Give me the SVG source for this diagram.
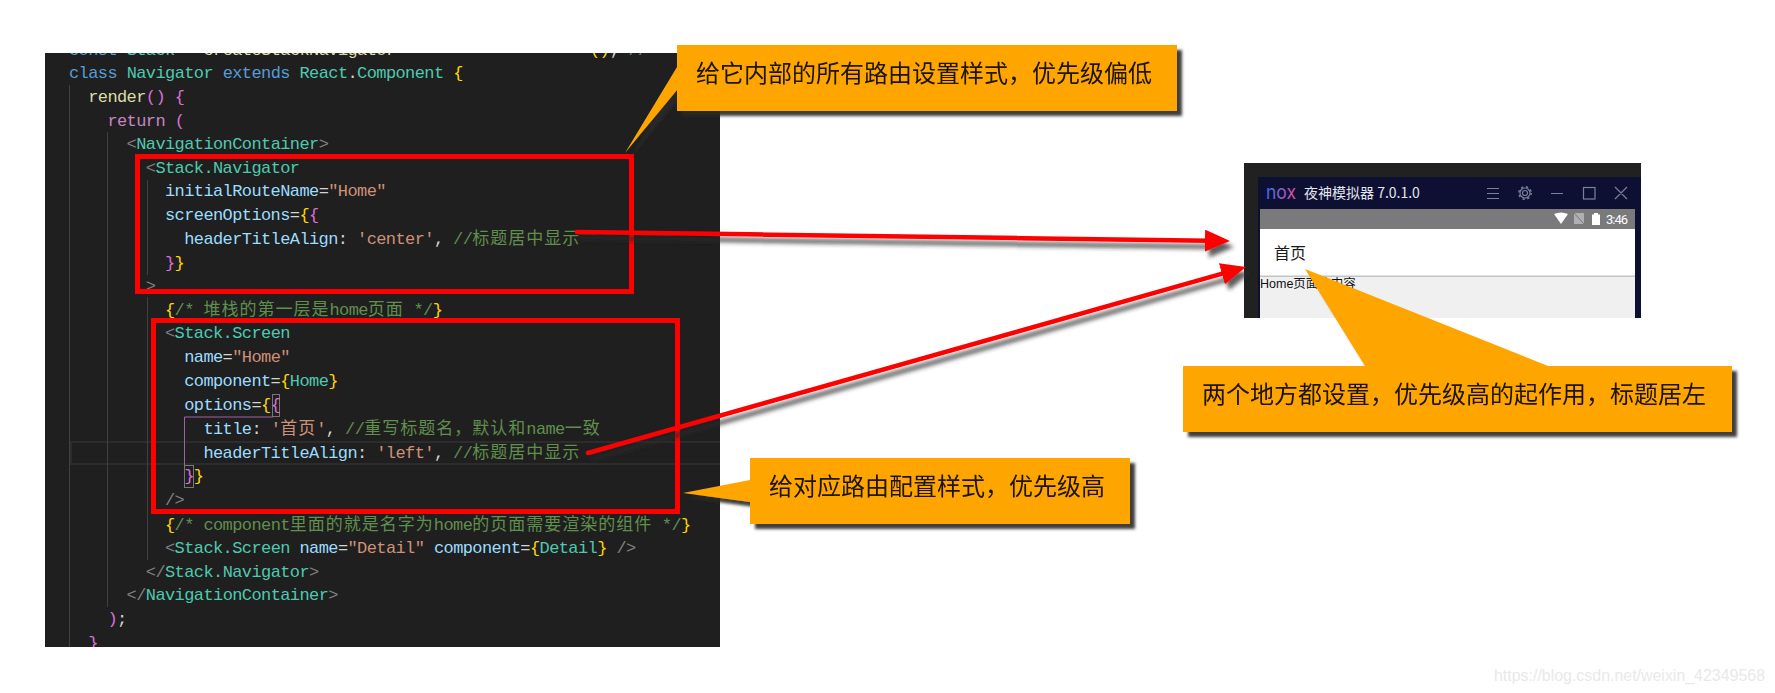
<svg xmlns="http://www.w3.org/2000/svg" width="1775" height="693" viewBox="0 0 1775 693">
<style>
text{white-space:pre}
.c{font-family:"Liberation Mono","Noto Sans CJK SC",monospace;font-size:17px;letter-spacing:-.6px;fill:#9cdcfe}
.z{font-family:"Noto Sans CJK SC",sans-serif;font-size:17px;letter-spacing:1px}
.k{fill:#569cd6}.t{fill:#4ec9b0}.p{fill:#c586c0}.f{fill:#dcdcaa}.s{fill:#ce9178}.g{fill:#5f8f4c}.a{fill:#9cdcfe}.o{fill:#d4d4d4}.y{fill:#ffd700}.m{fill:#da70d6}.b{fill:#808080}
.guide{stroke:#404040;stroke-width:1;fill:none}
.red{fill:none;stroke:#ff0000;stroke-width:5}
.call{fill:#ffa500}
.ct{font-family:"Noto Sans CJK SC",sans-serif;font-size:24px;fill:#1a1206}
.ico{stroke:#7b8098;stroke-width:1.2;fill:none}
.arr{stroke:#ff0000;stroke-width:4.5;fill:none;stroke-linecap:round;marker-end:url(#head)}
</style>
<defs>
<clipPath id="panelClip"><rect x="45" y="53" width="675" height="594"/></clipPath>
<filter id="sh" x="-10%" y="-30%" width="120%" height="170%"><feDropShadow dx="5" dy="5" stdDeviation="1.6" flood-color="#2b2b2b" flood-opacity=".9"/></filter>
<filter id="shl" filterUnits="userSpaceOnUse" x="500" y="200" width="800" height="300"><feDropShadow dx="4" dy="6" stdDeviation="2" flood-color="#2b2b2b" flood-opacity=".75"/></filter>
<marker id="head" markerUnits="userSpaceOnUse" markerWidth="30" markerHeight="26" refX="5" refY="11" orient="auto"><path d="M0,0L25,11L0,22z" fill="#ff0000"/></marker>
<linearGradient id="noxG" x1="0" x2="1" y1="0" y2="0"><stop offset="0" stop-color="#3a6fee"/><stop offset=".5" stop-color="#8a62c8"/><stop offset="1" stop-color="#ea4a9c"/></linearGradient>
</defs>
<rect width="1775" height="693" fill="#ffffff"/>

<g id="code-panel">
<rect x="45" y="53" width="675" height="594" fill="#1f1f1f"/>
<g clip-path="url(#panelClip)">
<rect x="71" y="442" width="660" height="22" fill="none" stroke="#2c2c2c" stroke-width="2"/>
<path class="guide" d="M69.5 85V647M107.5 132V607M147.5 180V275M147.5 297V560"/>
<path d="M184.5 465V417H273" fill="none" stroke="#a060a8" stroke-width="1"/>
<rect x="272.500" y="394.500" width="7" height="22" fill="none" stroke="#777"/>
<rect x="184.500" y="465.500" width="9" height="22" fill="none" stroke="#777"/>
<text class="c" y="54.500" x="69"><tspan class="k">const</tspan> <tspan class="t">Stack</tspan> <tspan class="o">=</tspan> <tspan class="f">createStackNavigator</tspan><tspan x="590" class="y">()</tspan><tspan class="o">;</tspan> <tspan class="g">//</tspan></text>
<text class="c" y="78" x="69"><tspan class="k">class</tspan> <tspan class="t">Navigator</tspan> <tspan class="k">extends</tspan> <tspan class="t">React</tspan><tspan class="o">.</tspan><tspan class="t">Component</tspan> <tspan class="y">{</tspan></text>
<text class="c" y="101.800" x="88.200"><tspan class="f">render</tspan><tspan class="m">()</tspan> <tspan class="m">{</tspan></text>
<text class="c" y="125.500" x="107.400"><tspan class="p">return</tspan> <tspan class="m">(</tspan></text>
<text class="c" y="149.300" x="126.600"><tspan class="b">&lt;</tspan><tspan class="t">NavigationContainer</tspan><tspan class="b">&gt;</tspan></text>
<text class="c" y="173.100" x="145.800"><tspan class="b">&lt;</tspan><tspan class="t">Stack.Navigator</tspan></text>
<text class="c" y="196.400" x="165"><tspan class="a">initialRouteName</tspan><tspan class="o">=</tspan><tspan class="s">"Home"</tspan></text>
<text class="c" y="220" x="165"><tspan class="a">screenOptions</tspan><tspan class="o">=</tspan><tspan class="y">{</tspan><tspan class="m">{</tspan></text>
<text class="c" y="243.800" x="184.200"><tspan class="a">headerTitleAlign</tspan><tspan class="o">:</tspan> <tspan class="s">'center'</tspan><tspan class="o">,</tspan> <tspan class="g">//</tspan><tspan class="z g">标题居中显示</tspan></text>
<text class="c" y="267.500" x="165"><tspan class="m">}</tspan><tspan class="y">}</tspan></text>
<text class="c" y="291" x="145.800"><tspan class="b">&gt;</tspan></text>
<text class="c" y="314.700" x="165"><tspan class="y">{</tspan><tspan class="g">/* </tspan><tspan class="z g">堆栈的第一层是</tspan><tspan class="g">home</tspan><tspan class="z g">页面</tspan><tspan class="g"> */</tspan><tspan class="y">}</tspan></text>
<text class="c" y="338" x="165"><tspan class="b">&lt;</tspan><tspan class="t">Stack.Screen</tspan></text>
<text class="c" y="362" x="184.200"><tspan class="a">name</tspan><tspan class="o">=</tspan><tspan class="s">"Home"</tspan></text>
<text class="c" y="386" x="184.200"><tspan class="a">component</tspan><tspan class="o">=</tspan><tspan class="y">{</tspan><tspan class="t">Home</tspan><tspan class="y">}</tspan></text>
<text class="c" y="409.800" x="184.200"><tspan class="a">options</tspan><tspan class="o">=</tspan><tspan class="y">{</tspan><tspan class="m">{</tspan></text>
<text class="c" y="433.600" x="203.400"><tspan class="a">title</tspan><tspan class="o">:</tspan> <tspan class="s">'</tspan><tspan class="z s">首页</tspan><tspan class="s">'</tspan><tspan class="o">,</tspan> <tspan class="g">//</tspan><tspan class="z g">重写标题名，默认和</tspan><tspan class="g">name</tspan><tspan class="z g">一致</tspan></text>
<text class="c" y="457.500" x="203.400"><tspan class="a">headerTitleAlign</tspan><tspan class="o">:</tspan> <tspan class="s">'left'</tspan><tspan class="o">,</tspan> <tspan class="g">//</tspan><tspan class="z g">标题居中显示</tspan></text>
<text class="c" y="481.300" x="184.200"><tspan class="m">}</tspan><tspan class="y">}</tspan></text>
<text class="c" y="505" x="165"><tspan class="b">/&gt;</tspan></text>
<text class="c" y="529.600" x="165"><tspan class="y">{</tspan><tspan class="g">/* component</tspan><tspan class="z g">里面的就是名字为</tspan><tspan class="g">home</tspan><tspan class="z g">的页面需要渲染的组件</tspan><tspan class="g"> */</tspan><tspan class="y">}</tspan></text>
<text class="c" y="553.400" x="165"><tspan class="b">&lt;</tspan><tspan class="t">Stack.Screen</tspan> <tspan class="a">name</tspan><tspan class="o">=</tspan><tspan class="s">"Detail"</tspan> <tspan class="a">component</tspan><tspan class="o">=</tspan><tspan class="y">{</tspan><tspan class="t">Detail</tspan><tspan class="y">}</tspan> <tspan class="b">/&gt;</tspan></text>
<text class="c" y="577.200" x="145.800"><tspan class="b">&lt;/</tspan><tspan class="t">Stack.Navigator</tspan><tspan class="b">&gt;</tspan></text>
<text class="c" y="600.400" x="126.600"><tspan class="b">&lt;/</tspan><tspan class="t">NavigationContainer</tspan><tspan class="b">&gt;</tspan></text>
<text class="c" y="624.200" x="107.400"><tspan class="m">)</tspan><tspan class="o">;</tspan></text>
<text class="c" y="648" x="88.200"><tspan class="m">}</tspan></text>
</g>
</g>

<g id="box-navigator"><rect class="red" x="137.500" y="156.500" width="494" height="135"/></g>
<g id="box-screen"><rect class="red" x="153.500" y="320.500" width="524" height="191"/></g>

<g id="emulator">
<rect x="1244" y="163" width="397" height="155" fill="#212121"/>
<rect x="1258" y="177" width="383" height="141" fill="#0d1033"/>
<rect x="1260" y="209" width="375" height="20" fill="#7a7a7a"/>
<rect x="1260" y="229" width="375" height="47" fill="#ffffff"/>
<rect x="1260" y="276" width="375" height="42" fill="#f0f0f0"/>
<rect x="1260" y="275.500" width="375" height="1.500" fill="#c4c4c4"/>
<text x="1266" y="199" font-family="Inter,sans-serif" font-size="20" textLength="30" lengthAdjust="spacingAndGlyphs" fill="url(#noxG)">nox</text>
<text x="1304" y="198" font-family="'Noto Sans CJK SC',sans-serif" font-size="14" fill="#e4e6ee">夜神模拟器 7.0.1.0</text>
<path class="ico" d="M1487 188.500H1499M1487 193.500H1499M1487 198.500H1499M1551 193.500H1563M1615 187L1627 199M1627 187L1615 199"/>
<rect class="ico" x="1583.500" y="187.500" width="11.500" height="11.500"/>
<circle class="ico" cx="1525" cy="193" r="2.500"/>
<circle class="ico" cx="1525" cy="193" r="5"/>
<circle cx="1525" cy="193" r="6.200" fill="none" stroke="#7b8098" stroke-width="1.500" stroke-dasharray="2.200 2.700"/>
<path d="M1554 214Q1561 211 1568 214L1561 224z" fill="#ffffff"/>
<path d="M1574 213H1584V224H1574z" fill="#b0b0b0"/>
<path d="M1574 213L1584 224" stroke="#7a7a7a" stroke-width="1"/>
<path d="M1594 213H1598V214.500H1600V225H1592V214.500H1594z" fill="#ffffff"/>
<text x="1606" y="224" font-family="Roboto,sans-serif" font-size="13" textLength="22" fill="#ffffff">3:46</text>
<text x="1274" y="259" font-family="'Noto Sans CJK SC',sans-serif" font-size="16" fill="#1a1a1a">首页</text>
<text x="1260" y="288" font-family="'Liberation Sans','Noto Sans CJK SC',sans-serif" font-size="12.500" fill="#111111">Home页面的内容</text>
</g>

<g id="connectors" filter="url(#shl)">
<path class="arr" d="M577 232L1210 240.700"/>
<path class="arr" d="M588 453L1226.700 272.400"/>
</g>

<g id="callout-global" filter="url(#sh)">
<path class="call" d="M677 45H1177V111H677V90L625 153L677 67z"/>
<text class="ct" x="696" y="82">给它内部的所有路由设置样式，优先级偏低</text>
</g>
<g id="callout-screen" filter="url(#sh)">
<path class="call" d="M750 458H1130V524H750V502L683 493L750 480z"/>
<text class="ct" x="769" y="495">给对应路由配置样式，优先级高</text>
</g>
<g id="callout-priority" filter="url(#sh)">
<path class="call" d="M1183 366H1365L1305 269L1548 366H1732V432H1183z"/>
<text class="ct" x="1202" y="403">两个地方都设置，优先级高的起作用，标题居左</text>
</g>

<text id="watermark" x="1494" y="681" font-family="'Liberation Sans',sans-serif" font-size="16" textLength="271" lengthAdjust="spacingAndGlyphs" fill="#e9e9e9">https://blog.csdn.net/weixin_42349568</text>
</svg>
